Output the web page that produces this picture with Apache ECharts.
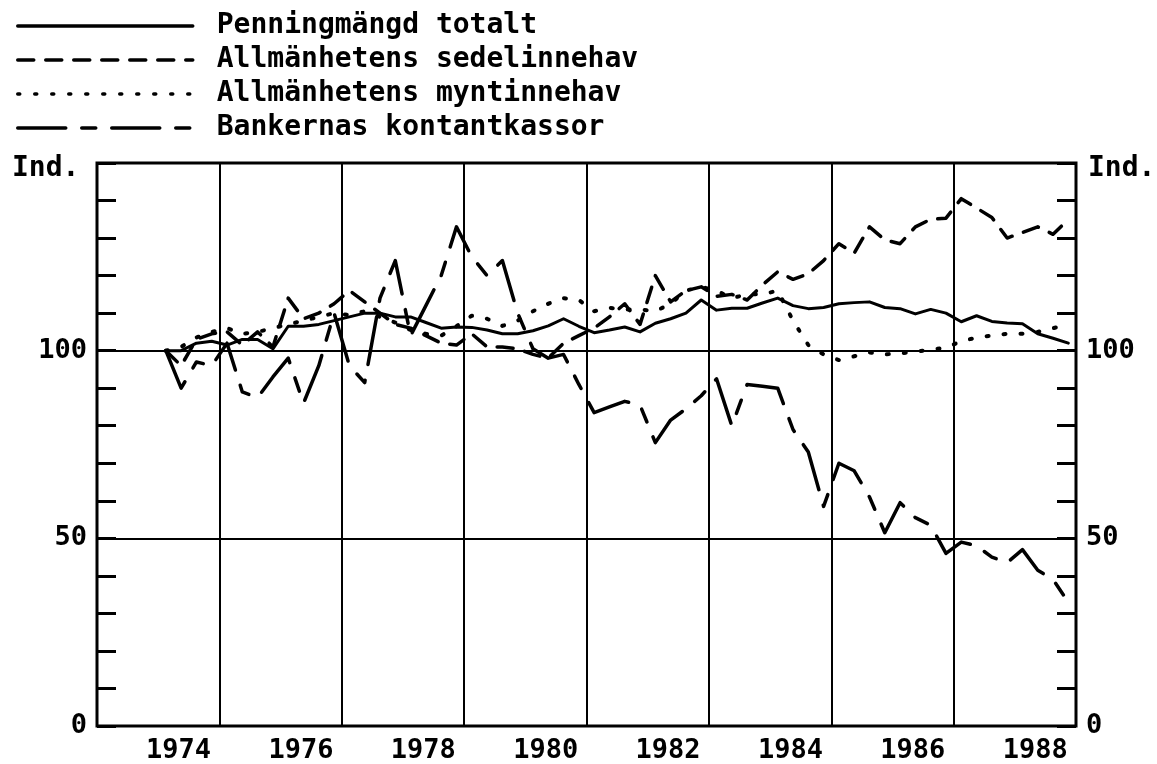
<!DOCTYPE html>
<html>
<head>
<meta charset="utf-8">
<script src="https://cdn.jsdelivr.net/npm/echarts@6/dist/echarts.min.js"></script>
<style>
  html, body { margin: 0; padding: 0; background: #fff; }
  #chart { width: 1157px; height: 764px; }
</style>
</head>
<body>
<div id="chart"></div>
<script>
// year labels under the x axis (centred inside each labelled year)
const yearLabels = ['1974', '1976', '1978', '1980', '1982', '1984', '1986', '1988']

// quarterly index values, 1974 Q1 .. 1988 Q4
const penning = [
  100, 100, 102, 102.5, 101.5, 103, 103, 100.5, 106.5, 106.5, 107, 108,
  109, 110, 110, 109, 109, 107.5, 106, 106.3, 106.2, 105.5, 104.5, 104.5,
  105.3, 106.6, 108.5, 106.5, 104.8, 105.5, 106.3, 105, 107.3, 108.5, 110, 113.5,
  110.8, 111.3, 111.3, 112.7, 114, 112, 111.2, 111.5, 112.5, 112.8, 113, 111.5,
  111.2, 109.8, 111, 110, 107.7, 109.3, 107.8, 107.4, 107.2, 104.5, 103.3, 102
]
const sedel = [
  100, 96, 103, 104.5, 105, 101.5, 105, 101, 114, 108.5, 110, 112.5,
  116, 113, 110, 107, 106, 104, 102, 101.5, 104.5, 101, 101, 100.5,
  99, 98, 102, 104, 106, 109, 112.5, 107, 120, 113, 116, 117,
  114.5, 115, 113.5, 117.5, 121, 119, 120.5, 124, 128.5, 126, 133, 129.5,
  128.5, 133, 135, 135.3, 140.5, 138, 135.5, 130, 131.5, 133, 131, 135
]
const mynt = [
  100, 101, 103.5, 105, 106, 104.5, 105, 106, 107, 108, 109, 110,
  109.5, 110.5, 109, 107.5, 105.5, 104.5, 104, 106.5, 109.3, 108.5, 106.6, 108,
  110.5, 112.5, 114, 113.5, 110.5, 111.4, 111, 111, 110.5, 112.5, 116, 117,
  116, 114, 115, 115, 116, 108, 101.5, 99, 97.5, 98.5, 99.5, 99,
  99.3, 99.7, 100.3, 100.8, 102.5, 103.5, 104, 104.5, 104.5, 105, 106, 107
]
const kontant = [
  100, 90, 97, 96, 102, 89, 87.5, 93, 98, 86, 96, 110,
  96, 91.5, 114, 124, 104, 112, 120, 133, 125, 120, 124, 110,
  100.5, 98, 99, 91, 83.5, 85, 86.5, 85.5, 75.5, 81.5, 84.5, 88,
  92.5, 80, 91, 90.5, 90, 79, 73, 58.5, 70, 68, 61, 51.5,
  59.5, 55.5, 53.5, 46, 49, 48, 45, 43.5, 47, 41.5, 39, 33
]

// x is counted in months from January 1973; each point sits mid-quarter
const firstMonth = 13.5
const toPoints = (vals) => vals.map((v, i) => [firstMonth + 3 * i, v])

const FONT = '"DejaVu Sans Mono", "Liberation Mono", monospace'
const chart = echarts.init(document.getElementById('chart'))

const yAxisBase = {
  type: 'value',
  min: 0,
  max: 150,
  interval: 50,
  axisLine: { show: false, onZero: false },
  axisTick: { show: true, inside: true, length: 19, lineStyle: { color: '#000', width: 3 } },
  minorTick: { show: true, splitNumber: 5, length: 19, lineStyle: { color: '#000', width: 3 } },
  minorSplitLine: { show: false },
  axisLabel: {
    color: '#000', fontFamily: FONT, fontWeight: 'bold', fontSize: 27, margin: 10,
    formatter: (v) => (v === 150 ? '' : String(v))
  }
}

const lineSeries = (name, vals, type, width) => ({
  name,
  type: 'line',
  data: toPoints(vals),
  symbol: 'none',
  xAxisIndex: 0,
  yAxisIndex: 0,
  lineStyle: { color: '#000', width: width || 3.5, type, cap: 'round', join: 'round' },
  itemStyle: { color: '#000' }
})

const indStyle = { fill: '#000', font: 'bold 28px ' + FONT, text: 'Ind.', textVerticalAlign: 'middle' }

chart.setOption({
  animation: false,
  backgroundColor: '#fff',
  grid: {
    left: 97, right: 81, top: 163, bottom: 38,
    show: true, borderColor: '#000', borderWidth: 3
  },
  legend: {
    orient: 'vertical',
    left: 11,
    top: 4,
    itemWidth: 175,
    itemHeight: 14,
    itemGap: 0,
    selectedMode: false,
    itemStyle: { opacity: 0 },
    lineStyle: { width: 3.5 },
    textStyle: {
      color: '#000', fontFamily: FONT, fontWeight: 'bold', fontSize: 28,
      lineHeight: 34, padding: [0, 0, 0, 19]
    },
    data: ['Penningmängd totalt', 'Allmänhetens sedelinnehav', 'Allmänhetens myntinnehav', 'Bankernas kontantkassor']
  },
  graphic: [
    { type: 'text', left: 12, top: 155, style: indStyle },
    { type: 'text', left: 1088, top: 155, style: indStyle }
  ],
  xAxis: [
    {
      type: 'value', min: 0, max: 192, interval: 24,
      axisLine: { show: false },
      axisTick: { show: false },
      axisLabel: { show: false },
      splitLine: { show: true, lineStyle: { color: '#000', width: 2 } }
    },
    {
      type: 'value', min: 0, max: 192, interval: 8, position: 'bottom',
      axisLine: { show: false },
      axisTick: { show: false },
      splitLine: { show: false },
      axisLabel: {
        color: '#000', fontFamily: FONT, fontWeight: 'bold', fontSize: 27, margin: 11,
        showMinLabel: false, showMaxLabel: false,
        formatter: (v) => ((v - 16) % 24 === 0 ? yearLabels[(v - 16) / 24] : '')
      }
    }
  ],
  yAxis: [
    Object.assign({}, yAxisBase, {
      position: 'left',
      splitLine: { show: true, lineStyle: { color: '#000', width: 2 } }
    }),
    Object.assign({}, yAxisBase, {
      position: 'right',
      splitLine: { show: false }
    })
  ],
  series: [
    lineSeries('Penningmängd totalt', penning, 'solid', 3),
    lineSeries('Allmänhetens sedelinnehav', sedel, [16, 12]),
    lineSeries('Allmänhetens myntinnehav', mynt, [2, 15], 4),
    lineSeries('Bankernas kontantkassor', kontant, [48, 16, 14, 16])
  ]
})
</script>
</body>
</html>
